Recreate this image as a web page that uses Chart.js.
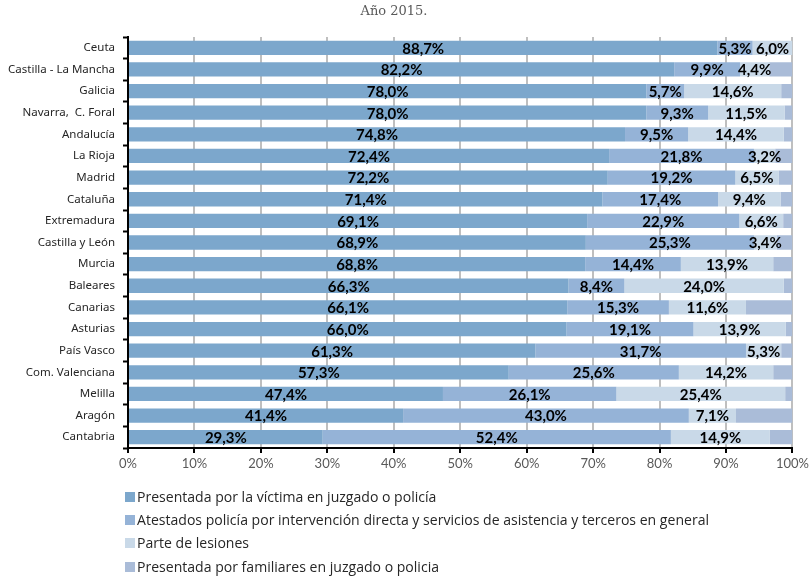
<!DOCTYPE html>
<html>
<head>
<meta charset="utf-8">
<script src="https://cdn.jsdelivr.net/npm/chart.js@4.4.1/dist/chart.umd.min.js"></script>
<style>
html,body{margin:0;padding:0;background:#fff;}
#wrap{position:relative;width:812px;height:576px;}
</style>
</head>
<body>
<div id="wrap"><canvas id="c" width="812" height="576"></canvas></div>
<script>
const title = "Año 2015.";
const regions = ["Ceuta","Castilla - La Mancha","Galicia","Navarra,  C. Foral","Andalucía","La Rioja","Madrid","Cataluña","Extremadura","Castilla y León","Murcia","Baleares","Canarias","Asturias","País Vasco","Com. Valenciana","Melilla","Aragón","Cantabria"];
const victima   = [88.7,82.2,78.0,78.0,74.8,72.4,72.2,71.4,69.1,68.9,68.8,66.3,66.1,66.0,61.3,57.3,47.4,41.4,29.3];
const atestados = [5.3,9.9,5.7,9.3,9.5,21.8,19.2,17.4,22.9,25.3,14.4,8.4,15.3,19.1,31.7,25.6,26.1,43.0,52.4];
const lesiones  = [6.0,4.4,14.6,11.5,14.4,3.2,6.5,9.4,6.6,3.4,13.9,24.0,11.6,13.9,5.3,14.2,25.4,7.1,14.9];
const familiares= [0.0,3.5,1.7,1.2,1.3,2.6,2.1,1.8,1.4,2.4,2.9,1.3,7.0,1.0,1.7,2.9,1.1,8.5,3.4];
const seriesNames = ["Presentada por la víctima en juzgado o policía","Atestados policía por intervención directa y servicios de asistencia y terceros en general","Parte de lesiones","Presentada por familiares en juzgado o policia"];
const xTicks = [0,10,20,30,40,50,60,70,80,90,100];

const colors = ["#7CA7CC","#95B3D7","#C9D9E8","#AABCD8"];
const seriesData = [victima, atestados, lesiones, familiares];

const extras = {
  id: 'extras',
  afterDatasetsDraw(chart) {
    const ctx = chart.ctx;
    ctx.save();
    ctx.font = "bold 15px Lato";
    ctx.fillStyle = "#000";
    ctx.textAlign = "center";
    ctx.textBaseline = "middle";
    for (let d = 0; d < 3; d++) {
      const meta = chart.getDatasetMeta(d);
      meta.data.forEach((el, i) => {
        const p = el.getProps(['x','base','y'], true);
        const v = chart.data.datasets[d].data[i];
        const txt = v.toFixed(1).replace('.', ',') + '%';
        ctx.fillText(txt, (p.x + p.base) / 2, p.y + 1);
      });
    }
    ctx.restore();
  },
  afterDraw(chart) {
    const ctx = chart.ctx;
    ctx.save();
    // title
    ctx.font = "13px 'DejaVu Serif'";
    ctx.fillStyle = "#595959";
    ctx.textAlign = "center";
    ctx.textBaseline = "middle";
    ctx.fillText(title, 394, 12);
    // legend
    ctx.font = "14px 'Open Sans'";
    ctx.textAlign = "left";
    let maxW = 0;
    chart.data.datasets.forEach(ds => { maxW = Math.max(maxW, ctx.measureText(ds.label).width); });
    const sx = 572 / maxW;
    const ys = [497, 520, 543, 567];
    chart.data.datasets.forEach((ds, i) => {
      ctx.fillStyle = ds.backgroundColor;
      ctx.fillRect(125, ys[i] - 5, 10, 10);
      ctx.fillStyle = "#262626";
      ctx.save();
      ctx.translate(137, ys[i] + 1);
      ctx.scale(sx, 1);
      ctx.fillText(ds.label, 0, 0);
      ctx.restore();
    });
    ctx.restore();
  }
};

new Chart(document.getElementById('c'), {
  type: 'bar',
  data: {
    labels: regions,
    datasets: seriesData.map((arr, i) => ({
      label: seriesNames[i],
      data: arr,
      backgroundColor: colors[i],
      borderWidth: 0,
      barPercentage: 0.66,
      categoryPercentage: 1.0
    }))
  },
  options: {
    indexAxis: 'y',
    responsive: false,
    animation: false,
    layout: { padding: { top: 37, right: 18, bottom: 98, left: 0 } },
    plugins: { legend: { display: false }, title: { display: false }, tooltip: { enabled: false } },
    scales: {
      x: {
        stacked: true,
        min: 0, max: 100,
        afterBuildTicks(scale) { scale.ticks = xTicks.map(v => ({ value: v })); },
        afterFit(scale) { scale.height = 30; },
        ticks: {
          callback: v => v + '%',
          font: { family: 'Lato', size: 13 },
          color: '#595959',
          padding: 3,
          maxRotation: 0
        },
        grid: { color: '#BFBFBF', lineWidth: 2, tickColor: '#000', tickLength: 5, tickWidth: 2 },
        border: { color: '#000', width: 2 }
      },
      y: {
        stacked: true,
        afterFit(scale) { scale.width = 128; },
        ticks: {
          font: { family: 'Noto Sans', size: 11.5 },
          color: '#262626',
          padding: 8,
          autoSkip: false
        },
        grid: { drawOnChartArea: false, offset: true, tickColor: '#000', tickLength: 5, tickWidth: 2 },
        border: { color: '#000', width: 2 }
      }
    }
  },
  plugins: [extras]
});
</script>
</body>
</html>
